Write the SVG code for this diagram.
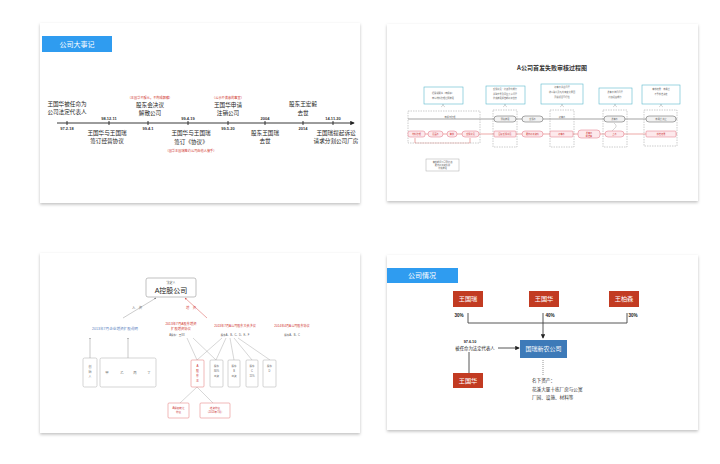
<svg xmlns="http://www.w3.org/2000/svg" width="720" height="464" viewBox="0 0 720 464">
<defs>
<filter id="sh" x="-5%" y="-5%" width="110%" height="115%"><feDropShadow dx="0" dy="1.5" stdDeviation="1.5" flood-color="#000" flood-opacity="0.25"/></filter>
<marker id="ab" viewBox="0 0 6 6" refX="5" refY="3" markerWidth="5" markerHeight="5" orient="auto"><path d="M0,0 L6,3 L0,6 z" fill="#222"/></marker>
<marker id="ag" viewBox="0 0 6 6" refX="5" refY="3" markerWidth="4" markerHeight="4" orient="auto"><path d="M0,0 L6,3 L0,6 z" fill="#777"/></marker>
<marker id="ar" viewBox="0 0 6 6" refX="5" refY="3" markerWidth="4" markerHeight="4" orient="auto"><path d="M0,0 L6,3 L0,6 z" fill="#d9534f"/></marker>
</defs>
<style>
text{font-family:"Liberation Sans","Noto Sans CJK SC",sans-serif;text-anchor:middle}
.slide{fill:#fff;filter:url(#sh)}
.bar{fill:#2f9cf0}
.bt{fill:#fff;font-size:7px}
.ev{font-size:5.6px;fill:#222}
.dt{font-size:4px;font-weight:bold;fill:#333}
.rn{font-size:3.2px;fill:#d0342c}
.tk{stroke:#222;stroke-width:0.9}
.cb{fill:#fff;stroke:#5cb8cc;stroke-width:0.6}
.dr{fill:none;stroke:#999;stroke-width:0.5;stroke-dasharray:1.5,1}
.bn{fill:#f2f2f2;stroke:#555;stroke-width:0.5}
.pn{fill:#fde9ec;stroke:#e07080;stroke-width:0.5}
.tt{font-size:2.2px;fill:#666}
.tr{font-size:2.2px;fill:#c33}
.gb{fill:#fff;stroke:#aaa;stroke-width:0.5}
.rb{fill:#fff;stroke:#e07070;stroke-width:0.5}
.gl{stroke:#999;stroke-width:0.4;fill:none}
.rbox{fill:#c23b22}
.rt{fill:#fff;font-size:6.2px}
.pc{font-size:4.6px;font-weight:bold;fill:#222}
.ln{stroke:#444;stroke-width:0.9;fill:none}
.sm{font-size:4.6px;fill:#333;text-anchor:start}
</style>

<!-- Slide 1: timeline -->
<g id="slide1">
<rect class="slide" x="40" y="23" width="320" height="180"/>
<g id="s1-title"><rect class="bar" x="42" y="36" width="70" height="16"/><text class="bt" x="77" y="46.5">公司大事记</text></g>
<g id="s1-connectors">
<line x1="57" y1="123" x2="354" y2="123" stroke="#222" stroke-width="0.9" marker-end="url(#ab)"/>
<line class="tk" x1="67" y1="121" x2="67" y2="125"/><line class="tk" x1="109" y1="121" x2="109" y2="125"/>
<line class="tk" x1="148" y1="121" x2="148" y2="125"/><line class="tk" x1="188" y1="121" x2="188" y2="125"/>
<line class="tk" x1="228" y1="121" x2="228" y2="125"/><line class="tk" x1="265" y1="121" x2="265" y2="125"/>
<line class="tk" x1="303" y1="121" x2="303" y2="125"/><line class="tk" x1="333" y1="121" x2="333" y2="125"/>
</g>
<g id="e1"><text class="dt" x="67" y="130">97.2.18</text><text class="ev" x="67" y="106">王国华被任命为</text><text class="ev" x="67" y="114">公司法定代表人</text></g>
<g id="e2"><text class="dt" x="109" y="119.5">98.12.11</text><text class="ev" x="107" y="135">王国华与王国瑞</text><text class="ev" x="107" y="143">签订经营协议</text></g>
<g id="e3"><text class="dt" x="148" y="130">99.4.1</text><text class="rn" x="150" y="98.5">（王国华不服从，不构成解散）</text><text class="ev" x="150" y="106.5">股东会决议</text><text class="ev" x="150" y="115">解散公司</text></g>
<g id="e4"><text class="dt" x="188" y="119.5">99.4.19</text><text class="ev" x="191" y="135">王国华与王国瑞</text><text class="ev" x="191" y="143.5">签订《协议》</text><text class="rn" x="191" y="152">（国华王国瑞签约公司由他人接手）</text></g>
<g id="e5"><text class="dt" x="228" y="130">99.5.20</text><text class="rn" x="228" y="98.5">（公示不满意的事宜）</text><text class="ev" x="228" y="106.5">王国华申请</text><text class="ev" x="228" y="115">注销公司</text></g>
<g id="e6"><text class="dt" x="265" y="119.5">2004</text><text class="ev" x="265" y="135">股东王国瑞</text><text class="ev" x="265" y="143">去世</text></g>
<g id="e7"><text class="dt" x="303" y="130">2014</text><text class="ev" x="303" y="106">股东王宏毅</text><text class="ev" x="303" y="114.5">去世</text></g>
<g id="e8"><text class="dt" x="333" y="119.5">14.11.20</text><text class="ev" x="336" y="135">王国瑞提起诉讼</text><text class="ev" x="336" y="143">请求分割公司厂房</text></g>
</g>

<!-- Slide 2: process chart -->
<g id="slide2">
<rect class="slide" x="387" y="24" width="311" height="177"/>
<text id="s2-title" x="552" y="70" style="font-size:6px;font-weight:bold;fill:#333;font-family:'Noto Sans CJK SC',sans-serif">A公司首发失败审核过程图</text>
<g id="s2-connectors">
<line x1="408" y1="119" x2="677" y2="119" stroke="#444" stroke-width="0.5"/>
<line x1="408" y1="134" x2="677" y2="134" stroke="#d9534f" stroke-width="0.5"/>
<line x1="415" y1="138" x2="415" y2="143" stroke="#d9534f" stroke-width="0.5"/>
<line x1="470" y1="138" x2="470" y2="143" stroke="#d9534f" stroke-width="0.5"/>
<line x1="415" y1="143" x2="470" y2="143" stroke="#d9534f" stroke-width="0.3"/>
<path d="M612,131 L616,127 L616,125 L614,123" class="gl"/>
<path d="M443,104 q0,2 -2,3 M443,104 q0,2 2,3 M505,104 q0,2 -2,3 M505,104 q0,2 2,3 M562,104 q0,2 -2,3 M562,104 q0,2 2,3 M615,104 q0,2 -2,3 M615,104 q0,2 2,3 M661,104 q0,2 -2,3 M661,104 q0,2 2,3" class="gl"/>
</g>
<g id="s2-callouts">
<rect class="cb" x="424" y="87" width="39" height="17"/><text class="tt" x="443" y="94">招股说明书（申报稿）</text><text class="tt" x="443" y="99">申请材料受理后预披露</text>
<rect class="cb" x="486" y="86" width="39" height="18"/><text class="tt" x="505" y="90">反馈意见：持续盈利能力</text><text class="tt" x="505" y="95">关联交易及同业竞争问题</text><text class="tt" x="505" y="99">补充披露报告期财务信息</text>
<rect class="cb" x="541" y="84" width="42" height="20"/><text class="tt" x="562" y="88">初审会关注问题</text><text class="tt" x="562" y="93">收入确认及毛利率变化原因</text><text class="tt" x="562" y="98">募投项目可行性</text>
<rect class="cb" x="599" y="88" width="33" height="16"/><text class="tt" x="615" y="93">发审会询问问题</text><text class="tt" x="615" y="98">持续经营能力</text>
<rect class="cb" x="642" y="85" width="38" height="19"/><text class="tt" x="661" y="90">审核结果：未通过</text><text class="tt" x="661" y="95">不予核准决定</text>
</g>
<g id="s2-frames">
<rect class="dr" x="408" y="111" width="72" height="32"/>
<rect class="dr" x="493" y="110" width="24" height="37"/>
<rect class="dr" x="550" y="110" width="24" height="37"/>
<rect class="dr" x="603" y="110" width="24" height="37"/>
<rect class="dr" x="644" y="110" width="33" height="36"/>
</g>
<g id="s2-black">
<text class="tt" x="450" y="118">申报与受理</text>
<rect class="bn" x="494" y="116" width="22" height="6" rx="3"/><text class="tt" x="505" y="119.8">预先披露</text>
<rect class="bn" x="522" y="116" width="21" height="6" rx="3"/><text class="tt" x="532.5" y="119.8">反馈会</text>
<text class="tt" x="562" y="118">初审会</text>
<rect class="bn" x="604" y="116" width="21" height="6" rx="3"/><text class="tt" x="614.5" y="119.8">发审会</text>
<rect class="bn" x="646" y="116" width="30" height="6" rx="3"/><text class="tt" x="661" y="119.8">未通过 终止</text>
</g>
<g id="s2-red">
<rect class="pn" x="408" y="131" width="17" height="6" rx="2"/><text class="tr" x="416.5" y="134.8">材料受理</text>
<rect class="pn" x="428" y="131" width="15" height="6" rx="3"/><text class="tr" x="435.5" y="134.8">见面会</text>
<rect class="pn" x="447" y="131" width="10" height="6" rx="3"/><text class="tr" x="452" y="134.8">审核</text>
<rect class="pn" x="462" y="131" width="17" height="6" rx="3"/><text class="tr" x="470.5" y="134.8">反馈意见</text>
<rect class="pn" x="494" y="131" width="22" height="6" rx="1"/><text class="tr" x="505" y="134.8">回复反馈意见</text>
<rect class="pn" x="522" y="131" width="21" height="6" rx="3"/><text class="tr" x="532.5" y="134.8">更新财务资料</text>
<rect class="pn" x="550" y="131" width="23" height="6" rx="1"/><text class="tr" x="561.5" y="134.8">初审会</text>
<rect class="pn" x="578" y="130" width="22" height="8" rx="3"/><text class="tr" x="589" y="133.5">发审会</text><text class="tr" x="589" y="136.5">前准备</text>
<rect class="pn" x="605" y="131" width="19" height="6" rx="3"/><text class="tr" x="614.5" y="134.8">上会</text>
<rect class="pn" x="646" y="131" width="30" height="6" rx="1"/><text class="tr" x="661" y="134.8">核准结果</text>
</g>
<g id="s2-note">
<rect class="gb" x="426" y="159" width="33" height="12"/><text class="tt" x="442.5" y="163">审核期间公司需持续</text><text class="tt" x="442.5" y="166">更新财务资料并</text><text class="tt" x="442.5" y="169">补充披露</text>
</g>
</g>

<!-- Slide 3: tree -->
<g id="slide3">
<rect class="slide" x="40" y="253" width="320" height="180"/>
<g id="s3-connectors">
<line x1="123" y1="318" x2="156" y2="298" stroke="#999" stroke-width="0.5" marker-end="url(#ag)"/>
<line x1="207" y1="318" x2="185" y2="298" stroke="#d9534f" stroke-width="0.5" marker-end="url(#ar)"/>
<line x1="90" y1="358" x2="90" y2="338" stroke="#777" stroke-width="0.4" marker-end="url(#ag)"/>
<line x1="128" y1="358" x2="128" y2="338" stroke="#777" stroke-width="0.4" marker-end="url(#ag)"/>
<path class="gl" d="M187,338 L197,360 M193,338 L216,360 M222,338 L197,360 M226,338 L216,360 M230,338 L234,360 M234,338 L252,360 M238,338 L270,360 M197,387 L180,403 M197,387 L213,403"/>
</g>
<g id="s3-root"><rect x="146" y="278" width="50" height="19" rx="2" fill="#fff" stroke="#999" stroke-width="0.6"/><text x="171" y="284" style="font-size:3px;fill:#555">法定人</text><text x="171" y="293" style="font-size:7px;fill:#222">A控股公司</text></g>
<text x="137" y="309" style="font-size:3.4px;fill:#777">入　资</text>
<text x="191" y="309" style="font-size:3.4px;fill:#d9534f">增　资</text>
<g id="s3-left"><text x="115" y="330" style="font-size:3.6px;fill:#5b7fc0">2013年7月企业增资扩股说明</text>
<rect class="gb" x="83" y="358" width="14" height="29" rx="1.5"/><text style="font-size:3px;fill:#777" x="90" y="368">创</text><text style="font-size:3px;fill:#777" x="90" y="373">始</text><text style="font-size:3px;fill:#777" x="90" y="378">人</text>
<rect class="gb" x="100" y="358" width="56" height="29" rx="1.5"/><text style="font-size:3.4px;fill:#777" x="107" y="374">甲</text><text style="font-size:3.4px;fill:#777" x="122" y="374">乙</text><text style="font-size:3.4px;fill:#777" x="135" y="374">丙</text><text style="font-size:3.4px;fill:#777" x="149" y="374">丁</text>
</g>
<g id="s3-right">
<text x="181" y="325" style="font-size:3.3px;fill:#d0342c">2013年7月A股东增资</text><text x="181" y="330" style="font-size:3.3px;fill:#d0342c">扩股增资协议</text>
<text x="235" y="327" style="font-size:3.1px;fill:#d0342c">2013年7月A公司股东大会决议</text>
<text x="292" y="327" style="font-size:3.1px;fill:#d0342c">2014年4月A公司股东协议</text>
<text x="177" y="336" style="font-size:2.6px;fill:#555">A股东：王XX</text>
<text x="235" y="336" style="font-size:2.6px;fill:#555">股东A、B、C、D、E、F</text>
<text x="292" y="336" style="font-size:2.6px;fill:#555">股东A、B、C</text>
</g>
<g id="s3-boxes">
<rect class="rb" x="191" y="360" width="13" height="27" rx="1"/><text class="tr" style="font-size:3px" x="197.5" y="367">A</text><text class="tr" style="font-size:3px" x="197.5" y="372">股</text><text class="tr" style="font-size:3px" x="197.5" y="377">东</text><text class="tr" style="font-size:3px" x="197.5" y="382">王</text>
<rect class="gb" x="210" y="360" width="13" height="27" rx="1"/><text class="tt" style="font-size:2.6px" x="216.5" y="367">股东</text><text class="tt" style="font-size:2.6px" x="216.5" y="372">80%</text><text class="tt" style="font-size:2.6px" x="216.5" y="377">出资</text>
<rect class="gb" x="228" y="360" width="12" height="27" rx="1"/><text class="tt" style="font-size:2.6px" x="234" y="367">股东</text><text class="tt" style="font-size:2.6px" x="234" y="372">B</text><text class="tt" style="font-size:2.6px" x="234" y="377">出资</text>
<rect class="gb" x="246" y="360" width="12" height="27" rx="1"/><text class="tt" style="font-size:2.6px" x="252" y="367">股东</text><text class="tt" style="font-size:2.6px" x="252" y="372">C</text><text class="tt" style="font-size:2.6px" x="252" y="377">15%</text>
<rect class="gb" x="263" y="360" width="13" height="27" rx="1"/><text class="tt" style="font-size:2.6px" x="269.5" y="367">股东</text><text class="tt" style="font-size:2.6px" x="269.5" y="372">D</text>
</g>
<g id="s3-bottom">
<rect class="rb" x="168" y="403" width="21" height="15" rx="1"/><text class="tr" style="font-size:2.6px" x="178.5" y="409">A股权转让</text><text class="tr" style="font-size:2.6px" x="178.5" y="413">协议</text>
<rect class="rb" x="200" y="403" width="30" height="15" rx="1"/><text class="tr" style="font-size:2.6px" x="215" y="409">增资协议</text><text class="tr" style="font-size:2.6px" x="215" y="413">（2013年7月）</text>
</g>
</g>

<!-- Slide 4: company situation -->
<g id="slide4">
<rect class="slide" x="387" y="255" width="311" height="175"/>
<g id="s4-title"><rect class="bar" x="387" y="268" width="71" height="15"/><text class="bt" x="422" y="278">公司情况</text></g>
<g id="s4-connectors">
<polyline class="ln" points="468,313 468,323 627,323 627,313"/>
<line x1="543" y1="313" x2="543" y2="338" stroke="#444" stroke-width="0.9" marker-end="url(#ab)"/>
<line x1="498" y1="348" x2="519" y2="348" stroke="#444" stroke-width="0.9" marker-end="url(#ab)"/>
<line class="ln" x1="469" y1="352" x2="469" y2="373"/>
<line x1="543" y1="360" x2="543" y2="376" stroke="#444" stroke-width="0.7" stroke-dasharray="0.8,1.2"/>
</g>
<g id="n-wgr"><rect class="rbox" x="453" y="291" width="30" height="16"/><text class="rt" x="468" y="301.3">王国瑞</text></g>
<g id="n-wgh"><rect class="rbox" x="529" y="291" width="30" height="16"/><text class="rt" x="544" y="301.3">王国华</text></g>
<g id="n-wbs"><rect class="rbox" x="609" y="291" width="30" height="16"/><text class="rt" x="624" y="301.3">王柏森</text></g>
<text class="pc" x="459" y="317">30%</text>
<text class="pc" x="550" y="317">40%</text>
<text class="pc" x="633" y="317">30%</text>
<g id="n-co"><rect x="520" y="340" width="47" height="18" fill="#3d7ab8"/><text x="543.5" y="351.3" style="fill:#fff;font-size:6px">国瑞新农公司</text></g>
<text class="pc" x="470" y="343" style="font-size:3.8px">97.6.10</text>
<text x="475" y="350" style="font-size:4.4px;fill:#222">被任命为法定代表人</text>
<g id="n-wgh2"><rect class="rbox" x="453" y="373" width="30" height="15"/><text class="rt" x="468" y="382.5">王国华</text></g>
<g id="s4-assets"><text class="sm" x="532" y="382">名下资产：</text><text class="sm" x="532" y="391">花溪大厦十栋厂房与公寓</text><text class="sm" x="532" y="399">厂园、设施、材料等</text></g>
</g>
</svg>
